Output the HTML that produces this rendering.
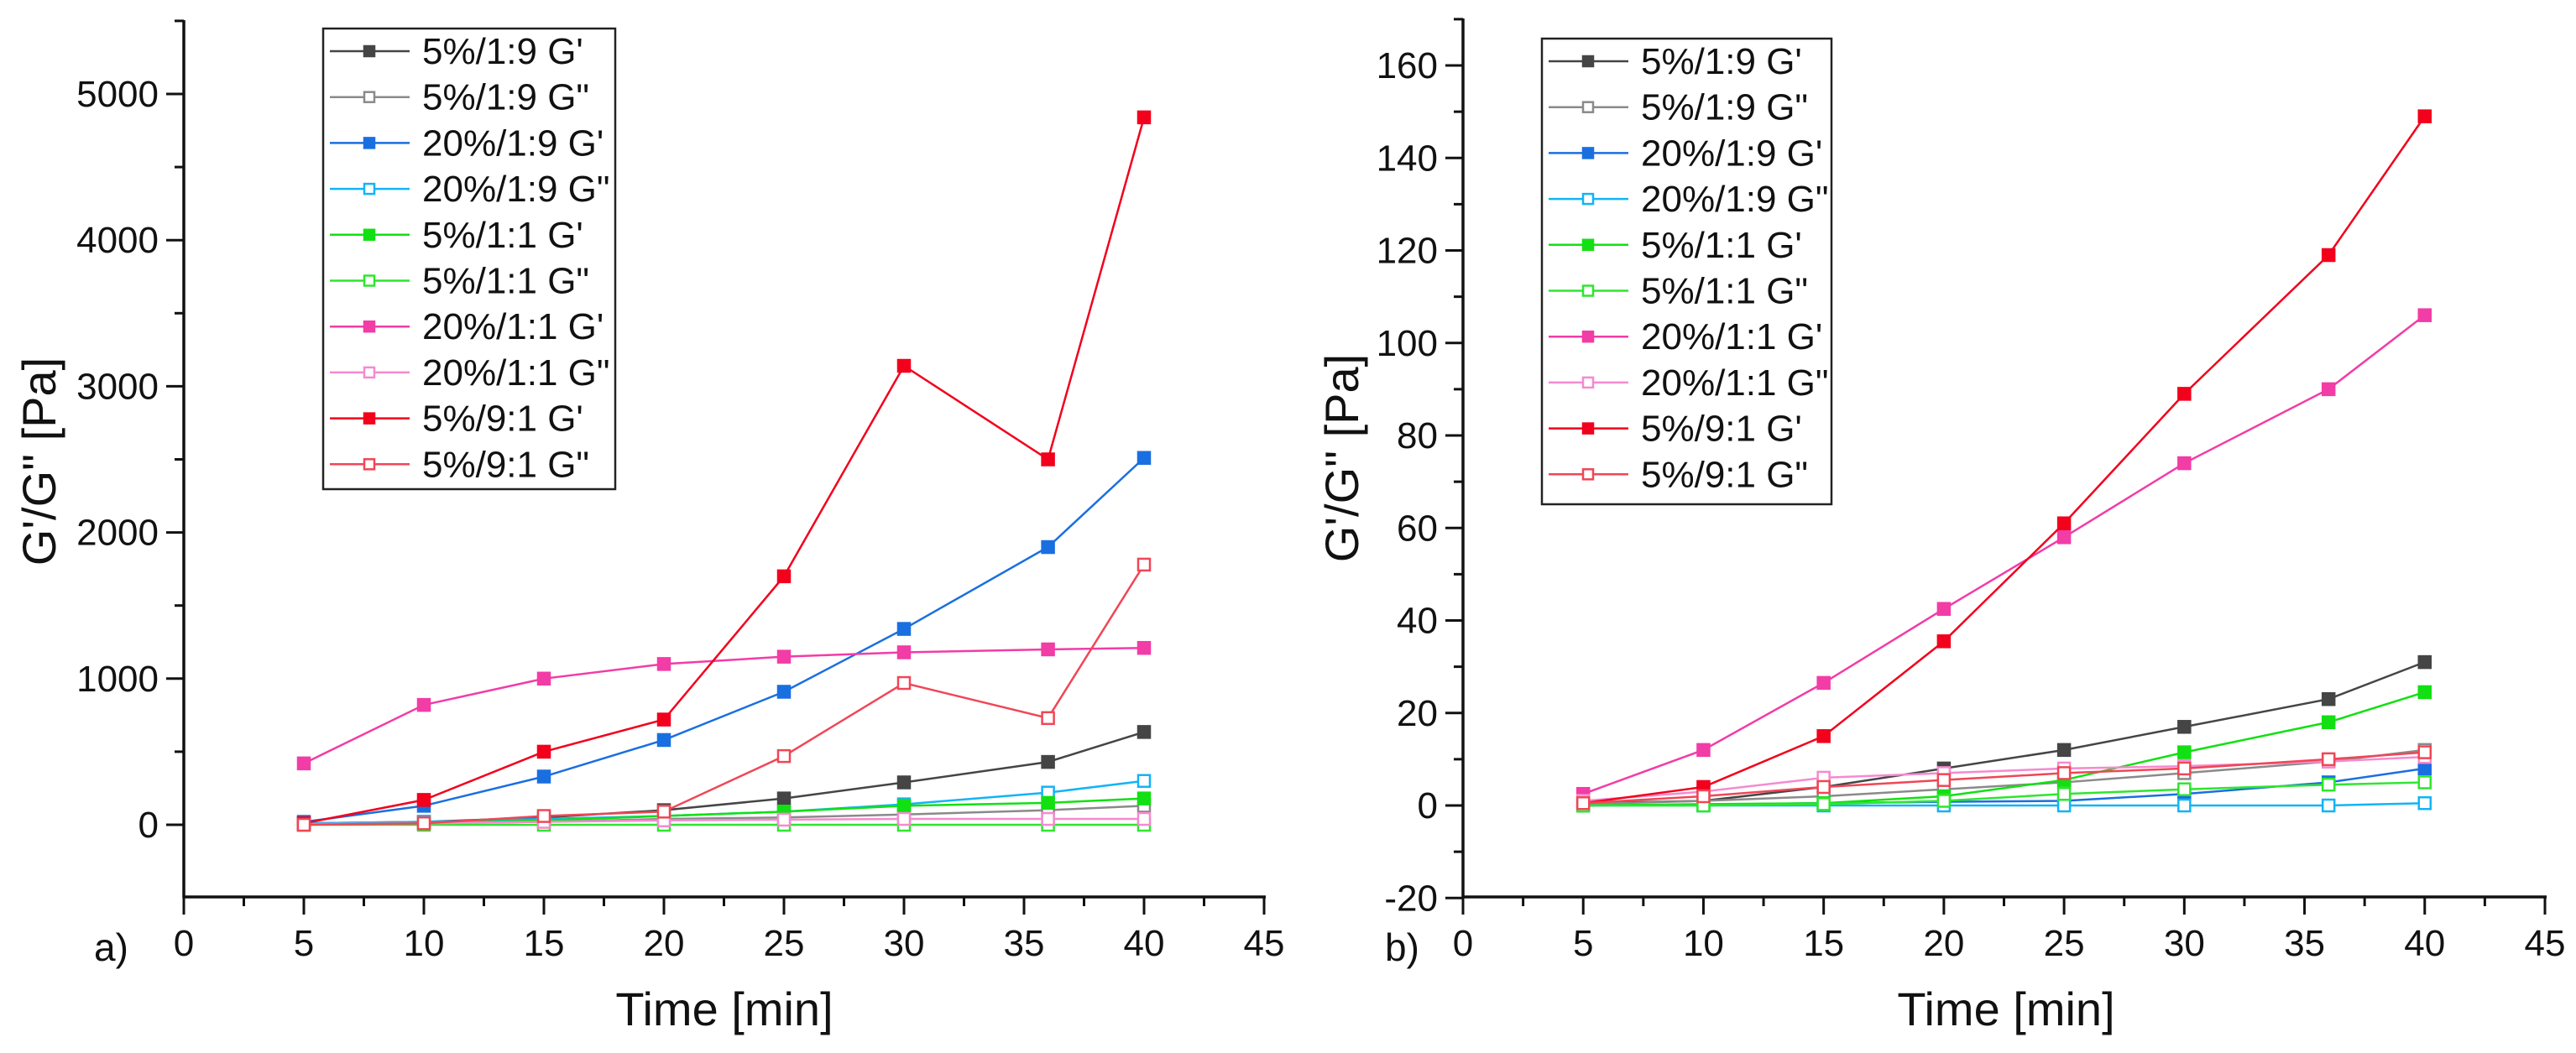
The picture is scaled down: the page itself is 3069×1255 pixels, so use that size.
<!DOCTYPE html>
<html><head><meta charset="utf-8"><style>
html,body{margin:0;padding:0;background:#fff;}
svg{display:block;font-family:"Liberation Sans",Arial,sans-serif;}
</style></head><body>
<svg id="chart" width="3069" height="1255" viewBox="0 0 3069 1255" xmlns="http://www.w3.org/2000/svg"></svg>
<script>
const times = [5,10,15,20,25,30,36,40];
const seriesNames = ["5%/1:9 G'","5%/1:9 G\"","20%/1:9 G'","20%/1:9 G\"","5%/1:1 G'","5%/1:1 G\"","20%/1:1 G'","20%/1:1 G\"","5%/9:1 G'","5%/9:1 G\""];
const seriesColors = ["#454545","#8a8a8a","#1a6fe0","#12b4f5","#12e012","#2ee62e","#f23ca6","#f58ad0","#f2001c","#f04656"];
const seriesFilled = [true,false,true,false,true,false,true,false,true,false];
// panel a values
const a_g19_5 = [10,20,50,100,180,290,430,635];
const a_g19_5pp = [5,10,20,40,50,70,100,130];
const a_g19_20 = [20,130,330,580,910,1340,1900,2510];
const a_g19_20pp = [10,20,40,60,90,140,220,300];
const a_g11_5 = [0,10,30,60,90,130,150,180];
const a_g11_5pp = [0,0,0,0,0,0,0,0];
const a_g11_20 = [420,820,1000,1100,1150,1180,1200,1210];
const a_g11_20pp = [5,10,20,30,35,40,40,40];
const a_g91_5 = [10,170,500,720,1700,3140,2500,4840];
const a_g91_5pp = [0,10,60,90,470,970,730,1780];
// panel b values
const b_g19_5 = [0.5,1,4,8,12,17,23,31];
const b_g19_5pp = [0.3,1,2,3.5,5,7,9.5,12];
const b_g19_20 = [0,0.2,0.5,0.8,1,2.5,5,8];
const b_g19_20pp = [0,0,0,0,0,0,0,0.5];
const b_g11_5 = [0,0.3,0.5,2,5.5,11.5,18,24.5];
const b_g11_5pp = [0,0,0.3,1,2.5,3.5,4.5,5];
const b_g11_20 = [2.5,12,26.5,42.5,58,74,90,106];
const b_g11_20pp = [1,3,6,7,8,8.5,9.5,10.5];
const b_g91_5 = [0.5,4,15,35.5,61,89,119,149];
const b_g91_5pp = [0.5,2,4,5.5,7,8,10,11.5];
const xTicks = [0,5,10,15,20,25,30,35,40,45];
const aYTicks = [0,1000,2000,3000,4000,5000];
const bYTicks = [-20,0,20,40,60,80,100,120,140,160];

const NS="http://www.w3.org/2000/svg";
const svg=document.getElementById('chart');
function mk(tag,attrs,parent){const e=document.createElementNS(NS,tag);for(const k in attrs)e.setAttribute(k,attrs[k]);(parent||svg).appendChild(e);return e;}

function panel(cfg){
  const g=mk('g',{});
  
  
  const X=v=>cfg.x0+(v-0)*(cfg.x45-cfg.x0)/45;
  const Y=v=>cfg.yZero-(v)*cfg.yPer;
  const axisY=cfg.axisY, top=cfg.top;
  // axes
  const ya=mk('line',{x1:cfg.x0,y1:top,x2:cfg.x0,y2:axisY+1.5,stroke:'#111','stroke-width':3.5},g);
  
  
  const xa=mk('line',{x1:cfg.x0-1.5,y1:axisY,x2:cfg.x45+2,y2:axisY,stroke:'#111','stroke-width':3.5},g);
  
  
  // x ticks
  for(let i=0;i<xTicks.length;i++){
    const v=xTicks[i];
    mk('line',{x1:X(v),y1:axisY,x2:X(v),y2:axisY+21,stroke:'#111','stroke-width':3},g);
    if(i<xTicks.length-1) mk('line',{x1:X(v+2.5),y1:axisY,x2:X(v+2.5),y2:axisY+11,stroke:'#111','stroke-width':3},g);
    const t=mk('text',{x:X(v),y:axisY+70,'font-size':44,'text-anchor':'middle',fill:'#111'},g);
    t.textContent=v;
    
    
  }
  // y ticks
  const yt=cfg.yTicks, step=yt[1]-yt[0];
  for(let i=0;i<yt.length;i++){
    const v=yt[i];
    mk('line',{x1:cfg.x0-21,y1:Y(v),x2:cfg.x0,y2:Y(v),stroke:'#111','stroke-width':3},g);
    const t=mk('text',{x:cfg.x0-30,y:Y(v)+15,'font-size':44,'text-anchor':'end',fill:'#111'},g);
    t.textContent=v;
    
    
  }
  for(let v=yt[0]-step/2; Y(v)>top; v+=step){
    if(Y(v)<=axisY-2) mk('line',{x1:cfg.x0-11,y1:Y(v),x2:cfg.x0,y2:Y(v),stroke:'#111','stroke-width':3},g);
  }
  // titles
  const yt2=mk('text',{x:0,y:0,'font-size':56,'text-anchor':'middle',fill:'#111',transform:`translate(${cfg.ytX},${cfg.ytY}) rotate(-90)`},g);
  yt2.textContent="G'/G\" [Pa]";
  
  
  const xt=mk('text',{x:cfg.xtX,y:1222,'font-size':56,'text-anchor':'middle',fill:'#111'},g);
  xt.textContent='Time [min]';
  
  
  const pl=mk('text',{x:cfg.plX,y:1145,'font-size':46,fill:'#111'},g);
  pl.textContent=cfg.plText;
  
  
  // series
  cfg.data.forEach((vals,si)=>{
    const sg=mk('g',{},g);
    
    
    const pts=vals.map((v,i)=>X(times[i])+','+Y(v)).join(' ');
    mk('polyline',{points:pts,fill:'none',stroke:seriesColors[si],'stroke-width':2.5},sg);
    vals.forEach((v,i)=>{
      const m=mk('rect',{x:X(times[i])-7,y:Y(v)-7,width:14,height:14,fill:seriesFilled[si]?seriesColors[si]:'#fff',stroke:seriesColors[si],'stroke-width':2.5},sg);
      
      
    });
  });
  // legend
  const lg=mk('g',{},g);
  
  
  mk('rect',{x:cfg.lgX,y:cfg.lgY,width:cfg.lgW,height:cfg.lgH,fill:'#fff',stroke:'#222','stroke-width':2.5},lg);
  seriesNames.forEach((n,si)=>{
    const cy=cfg.lgY+27+si*54.7;
    const e=mk('g',{},lg);
    
    
    mk('line',{x1:cfg.lgX+8,y1:cy,x2:cfg.lgX+103,y2:cy,stroke:seriesColors[si],'stroke-width':2.5},e);
    mk('rect',{x:cfg.lgX+55-6,y:cy-6,width:12,height:12,fill:seriesFilled[si]?seriesColors[si]:'#fff',stroke:seriesColors[si],'stroke-width':2.5},e);
    const t=mk('text',{x:cfg.lgX+118,y:cy+15,'font-size':44,fill:'#111'},e);
    t.textContent=n;
  });
}

panel({name:'chart-a',x0:219,x45:1506,yZero:983,yPer:174.2/1000,axisY:1069,top:24,yTicks:aYTicks,
  ytX:66,ytY:550,xtX:863,plX:112,plText:'a)',
  lgX:385,lgY:34,lgW:348,lgH:549,
  data:[a_g19_5,a_g19_5pp,a_g19_20,a_g19_20pp,a_g11_5,a_g11_5pp,a_g11_20,a_g11_20pp,a_g91_5,a_g91_5pp]});
panel({name:'chart-b',x0:1743,x45:3032,yZero:960,yPer:110.25/20,axisY:1069,top:22,yTicks:bYTicks,
  ytX:1618,ytY:546,xtX:2390,plX:1650,plText:'b)',
  lgX:1837,lgY:46,lgW:345,lgH:555,
  data:[b_g19_5,b_g19_5pp,b_g19_20,b_g19_20pp,b_g11_5,b_g11_5pp,b_g11_20,b_g11_20pp,b_g91_5,b_g91_5pp]});
</script>
</body></html>
